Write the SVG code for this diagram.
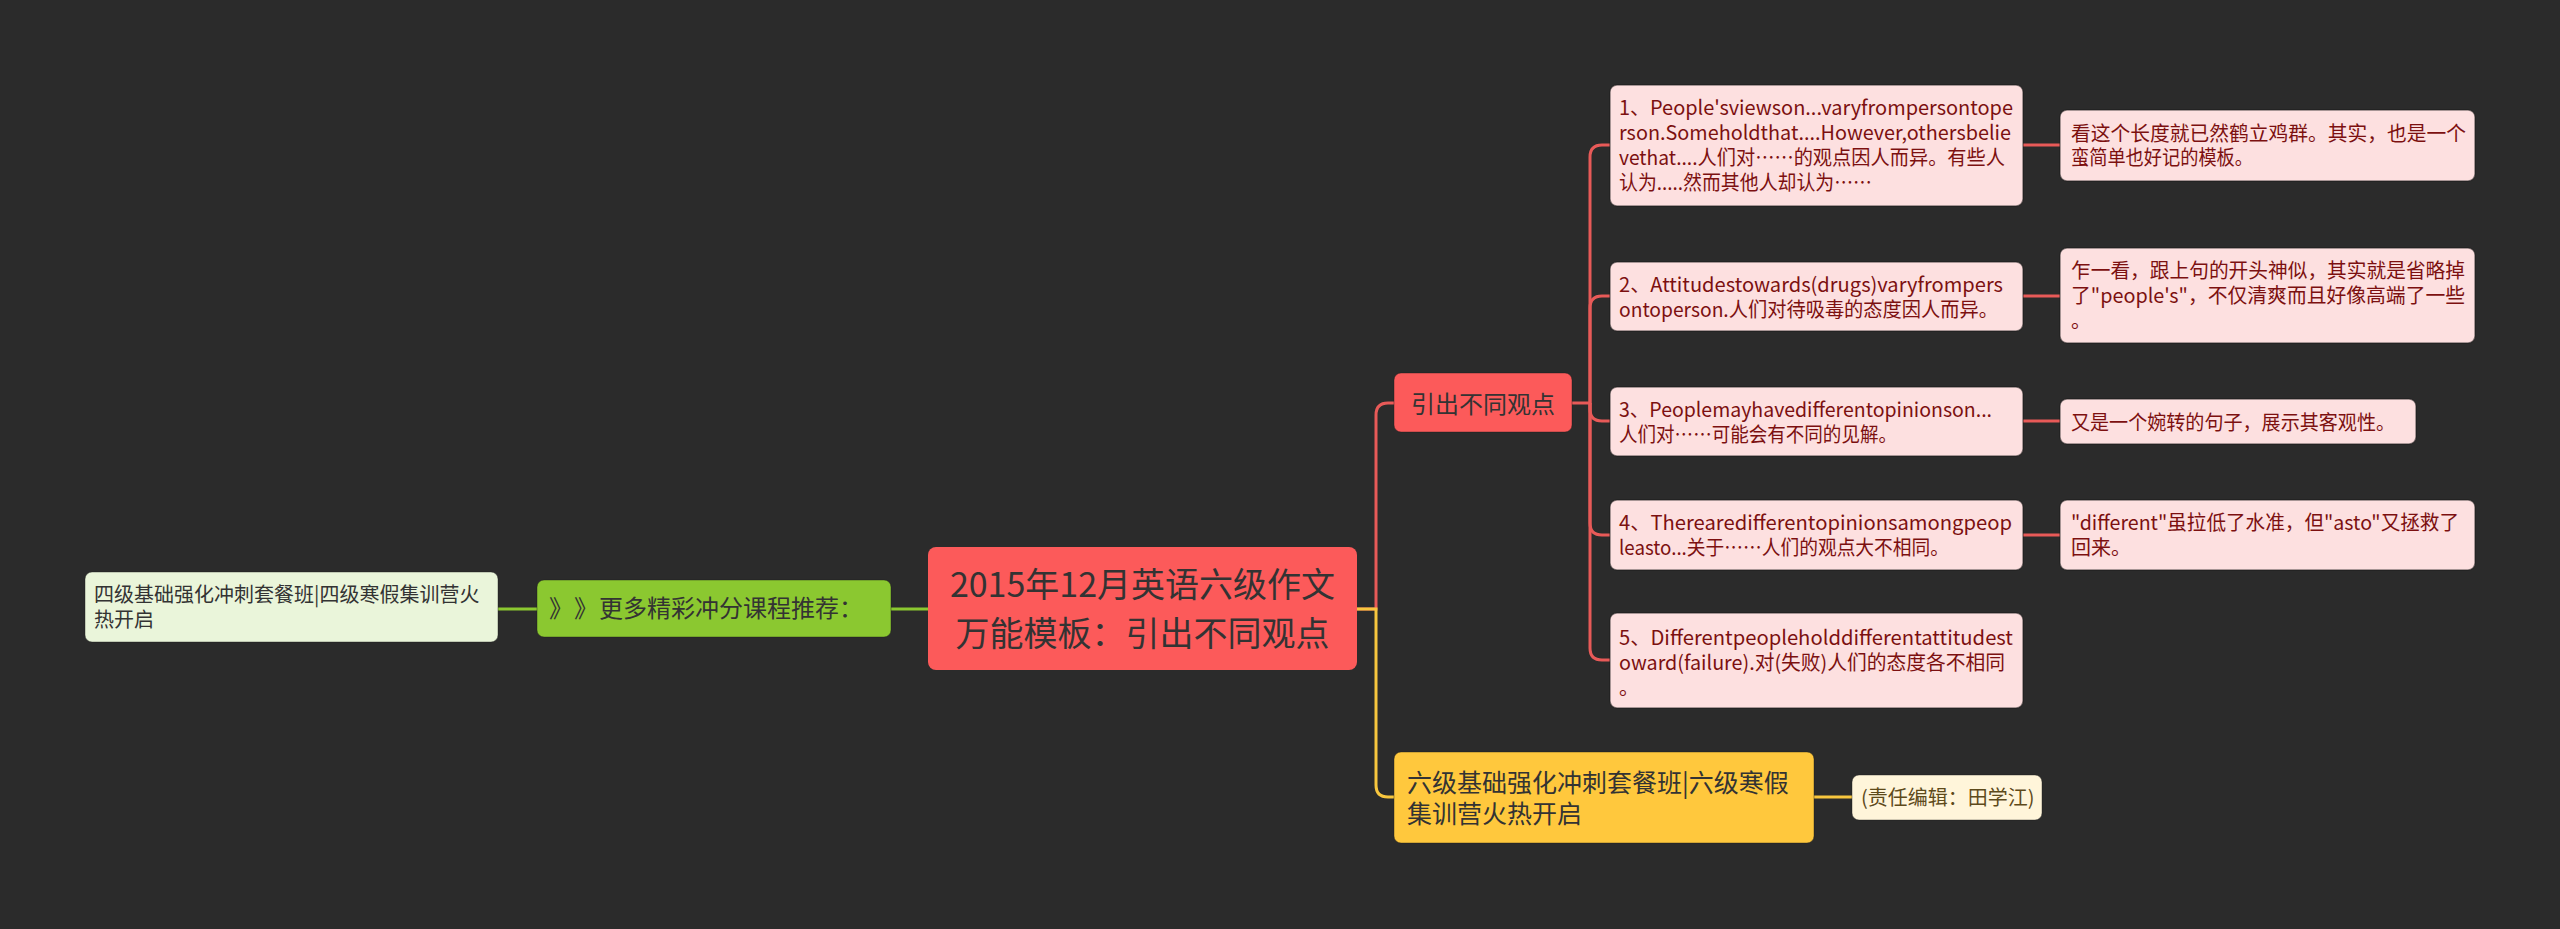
<svg xmlns="http://www.w3.org/2000/svg" width="2560" height="929" viewBox="0 0 2560 929">
<style>
text{font-family:"Noto Sans CJK SC","Microsoft YaHei",sans-serif}
.c{fill:none;stroke-width:3}
.red{stroke:#E85A58}
.grn{stroke:#8BC830}
.yel{stroke:#F7C63E}
.pk rect{fill:#FDE0E0;stroke:#1a1a1a;stroke-opacity:.5;stroke-width:1.5}
.pk text{fill:#7c1010;font-size:20px}
</style>
<rect width="2560" height="929" fill="#2B2B2B"/>
<g id="connectors">
<path class="c grn" d="M928 609H891M537 609H498"/>
<path class="c red" d="M1357 609H1376V415Q1376 403 1388 403H1394"/>
<path class="c yel" d="M1357 609H1376V785Q1376 797 1388 797H1394"/>
<path class="c yel" d="M1814 797H1852"/>
<path class="c red" d="M1572 403H1590V157Q1590 145 1602 145H1610"/>
<path class="c red" d="M1590 403V308Q1590 296 1602 296H1610"/>
<path class="c red" d="M1590 403V409Q1590 421 1602 421H1610"/>
<path class="c red" d="M1590 403V523Q1590 535 1602 535H1610"/>
<path class="c red" d="M1590 403V648Q1590 660 1602 660H1610"/>
<path class="c red" d="M2023 145H2060M2023 296H2060M2023 421H2060M2023 535H2060"/>
</g>
<g id="root">
<rect x="928" y="547" width="429" height="123" rx="8" fill="#FC5A5A"/>
<text x="1142.5" y="597" font-size="34" fill="#333" text-anchor="middle">2015年12月英语六级作文</text>
<text x="1142.5" y="646" font-size="34" fill="#333" text-anchor="middle">万能模板：引出不同观点</text>
</g>
<g id="more">
<rect x="537" y="580" width="354" height="57" rx="7" fill="#8BC830" stroke="#1a1a1a" stroke-opacity=".4"/>
<text y="617" font-size="24" fill="#333"><tspan x="549">》</tspan><tspan x="574">》</tspan><tspan x="599">更多精彩冲分课程推荐：</tspan></text>
</g>
<g id="cet4">
<rect x="85" y="572" width="413" height="70" rx="7" fill="#EAF5DA" stroke="#1a1a1a" stroke-opacity=".4"/>
<text x="94" y="602" font-size="20" fill="#333">四级基础强化冲刺套餐班|四级寒假集训营火</text>
<text x="94" y="627" font-size="20" fill="#333">热开启</text>
</g>
<g id="intro">
<rect x="1394" y="373" width="178" height="59" rx="7" fill="#FC5A5A" stroke="#1a1a1a" stroke-opacity=".4"/>
<text x="1483" y="413" font-size="24" fill="#333" text-anchor="middle">引出不同观点</text>
</g>
<g id="cet6">
<rect x="1394" y="752" width="420" height="91" rx="7" fill="#FFC83D" stroke="#1a1a1a" stroke-opacity=".4"/>
<text x="1407" y="792" font-size="25" fill="#333">六级基础强化冲刺套餐班|六级寒假</text>
<text x="1407" y="823" font-size="25" fill="#333">集训营火热开启</text>
</g>
<g id="editor">
<rect x="1852" y="775" width="190" height="45" rx="7" fill="#FFF5DA" stroke="#1a1a1a" stroke-opacity=".4"/>
<text x="1861" y="805" font-size="20" fill="#5e4a1a">(责任编辑：田学江)</text>
</g>
<g id="s1" class="pk">
<rect x="1610" y="85" width="413" height="121" rx="7"/>
<text x="1619" y="115" textLength="394" lengthAdjust="spacingAndGlyphs">1、People'sviewson...varyfrompersontope</text>
<text x="1619" y="140" textLength="392" lengthAdjust="spacingAndGlyphs">rson.Someholdthat....However,othersbelie</text>
<text x="1619" y="165" textLength="386" lengthAdjust="spacingAndGlyphs">vethat....人们对……的观点因人而异。有些人</text>
<text x="1619" y="190" textLength="253" lengthAdjust="spacingAndGlyphs">认为.....然而其他人却认为……</text>
</g>
<g id="s2" class="pk">
<rect x="1610" y="262" width="413" height="69" rx="7"/>
<text x="1619" y="292" textLength="384" lengthAdjust="spacingAndGlyphs">2、Attitudestowards(drugs)varyfrompers</text>
<text x="1619" y="317" textLength="379" lengthAdjust="spacingAndGlyphs">ontoperson.人们对待吸毒的态度因人而异。</text>
</g>
<g id="s3" class="pk">
<rect x="1610" y="387" width="413" height="69" rx="7"/>
<text x="1619" y="417" textLength="373" lengthAdjust="spacingAndGlyphs">3、Peoplemayhavedifferentopinionson...</text>
<text x="1619" y="442" textLength="278" lengthAdjust="spacingAndGlyphs">人们对……可能会有不同的见解。</text>
</g>
<g id="s4" class="pk">
<rect x="1610" y="500" width="413" height="70" rx="7"/>
<text x="1619" y="530" textLength="393" lengthAdjust="spacingAndGlyphs">4、Therearedifferentopinionsamongpeop</text>
<text x="1619" y="555" textLength="330" lengthAdjust="spacingAndGlyphs">leasto...关于……人们的观点大不相同。</text>
</g>
<g id="s5" class="pk">
<rect x="1610" y="613" width="413" height="95" rx="7"/>
<text x="1619" y="645" textLength="394" lengthAdjust="spacingAndGlyphs">5、Differentpeopleholddifferentattitudest</text>
<text x="1619" y="670" textLength="386" lengthAdjust="spacingAndGlyphs">oward(failure).对(失败)人们的态度各不相同</text>
<text x="1619" y="695">。</text>
</g>
<g id="n1" class="pk">
<rect x="2060" y="110" width="415" height="71" rx="7"/>
<text x="2071" y="141" textLength="395" lengthAdjust="spacingAndGlyphs">看这个长度就已然鹤立鸡群。其实，也是一个</text>
<text x="2071" y="165" textLength="182" lengthAdjust="spacingAndGlyphs">蛮简单也好记的模板。</text>
</g>
<g id="n2" class="pk">
<rect x="2060" y="248" width="415" height="95" rx="7"/>
<text x="2071" y="278" textLength="394" lengthAdjust="spacingAndGlyphs">乍一看，跟上句的开头神似，其实就是省略掉</text>
<text x="2071" y="303" textLength="394" lengthAdjust="spacingAndGlyphs">了"people's"，不仅清爽而且好像高端了一些</text>
<text x="2071" y="328">。</text>
</g>
<g id="n3" class="pk">
<rect x="2060" y="399" width="356" height="45" rx="7"/>
<text x="2071" y="430" textLength="324" lengthAdjust="spacingAndGlyphs">又是一个婉转的句子，展示其客观性。</text>
</g>
<g id="n4" class="pk">
<rect x="2060" y="500" width="415" height="70" rx="7"/>
<text x="2071" y="530" textLength="388" lengthAdjust="spacingAndGlyphs">"different"虽拉低了水准，但"asto"又拯救了</text>
<text x="2071" y="555">回来。</text>
</g>
</svg>
